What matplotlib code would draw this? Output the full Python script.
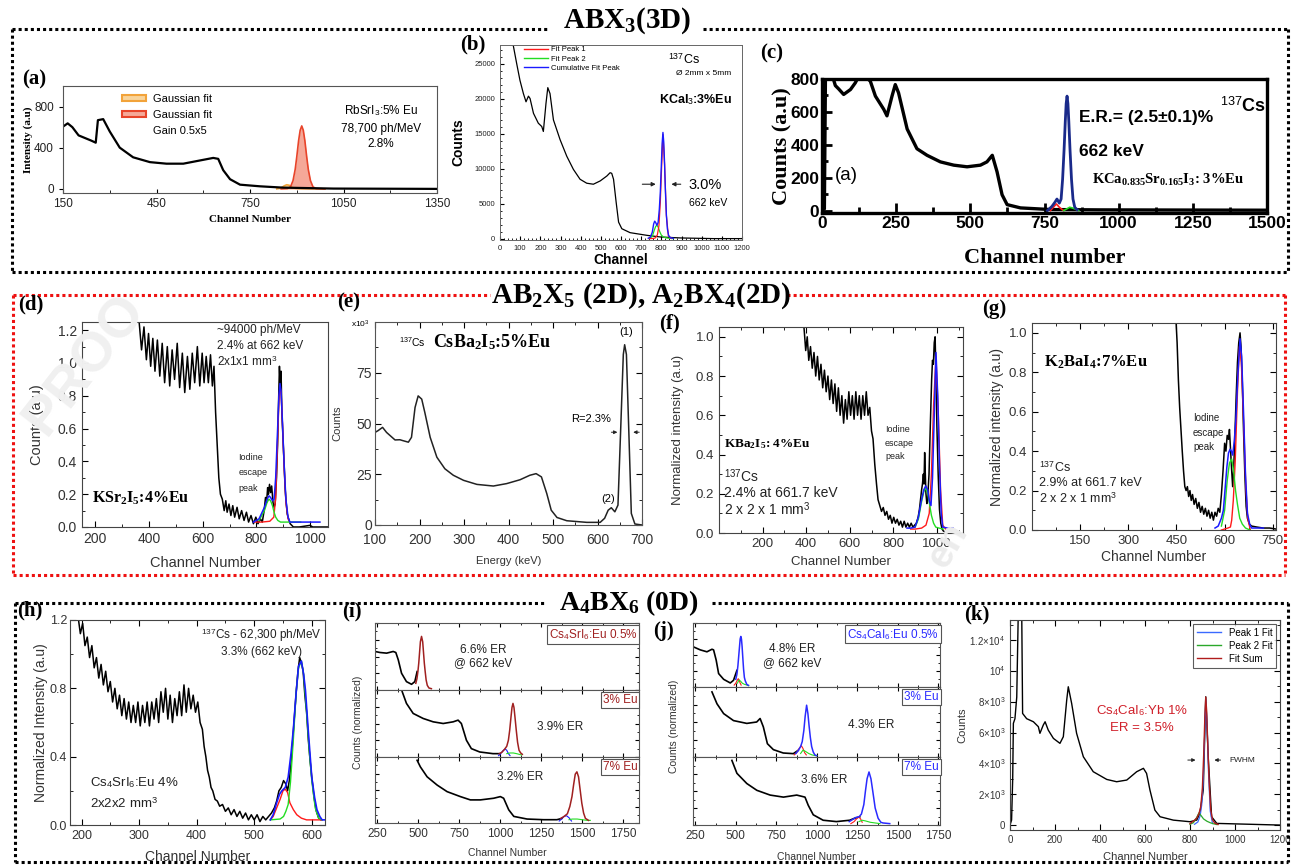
import numpy as np
import matplotlib.pyplot as plt
from matplotlib.lines import Line2D
from matplotlib.patches import Patch
from matplotlib.ticker import MultipleLocator, FormatStrFormatter, FixedLocator

W, H = 1291, 866
plt.rcParams['font.family'] = ['Liberation Sans', 'DejaVu Sans']
plt.rcParams['mathtext.fontset'] = 'custom'
plt.rcParams['mathtext.rm'] = 'Liberation Serif'
plt.rcParams['mathtext.bf'] = 'Liberation Serif:bold'
plt.rcParams['mathtext.sf'] = 'Liberation Sans'
plt.rcParams['mathtext.it'] = 'Liberation Serif:italic'
SERIF = 'Liberation Serif'
NARROW = 'Liberation Sans'

# ---------------- data ----------------
# (a) RbSrI3:5% Eu
a_ch = [150, 165, 180, 200, 240, 255, 262, 279, 300, 332, 375, 429, 482, 536, 589, 632, 648, 664, 686, 718, 782, 857, 1018, 1350]
a_y = [605, 637, 600, 520, 470, 449, 668, 678, 558, 401, 307, 260, 245, 245, 276, 301, 292, 182, 94, 41, 25, 12, 3, 0]
a_red_ch = [850, 870, 880, 888, 895, 900, 906, 911, 916, 921, 926, 932, 937, 944, 952, 962, 990]
a_red_y = [0, 3, 20, 80, 190, 310, 470, 570, 612, 570, 470, 310, 190, 80, 20, 3, 0]
a_org_ch = [836, 850, 860, 868, 876, 885, 895, 920, 991]
a_org_y = [0, 10, 30, 40, 35, 15, 5, 2, 0]

# (b) KCaI3:3%Eu
b_ch = [60, 66, 83, 99, 116, 129, 141, 149, 166, 190, 207, 215, 228, 237, 248, 265, 298, 331, 364, 397, 430, 463, 497, 530,
        546, 554, 563, 576, 588, 604, 645, 728, 794, 894, 1059, 1200]
b_y = [29000, 27600, 25000, 22640, 20750, 19575, 20380, 20050, 17925, 16510, 16040, 15330, 19340, 21600, 20750, 16980,
       14150, 11790, 9900, 8490, 7925, 7780, 8255, 8960, 9430, 9340, 8490, 5190, 2360, 1415, 850, 470, 236, 94, 0, 0]
b_blue_ch = [735, 745, 755, 762, 767, 772, 778, 784, 790, 795, 800, 804, 808, 812, 816, 820, 825, 830, 836, 845, 860]
b_blue_y = [50, 200, 900, 2100, 2500, 2300, 1900, 2300, 4200, 6700, 10500, 13600, 15190, 13800, 10800, 7000, 3400, 1400, 450, 120, 40]
b_red_ch = [740, 760, 770, 780, 788, 795, 800, 808, 816, 825, 835, 850]
b_red_y = [0, 20, 100, 500, 1800, 5200, 9200, 14900, 10600, 3300, 400, 20]
b_grn_ch = [740, 755, 765, 772, 778, 785, 792, 800, 810, 825, 845, 860]
b_grn_y = [0, 300, 1200, 1750, 1900, 1600, 1000, 500, 250, 100, 30, 0]

# (c) KCa0.835Sr0.165I3:3%Eu
c_ch = [0, 4, 8, 12, 30, 45, 56, 73, 96, 112, 125, 140, 163, 180, 208, 219, 236, 247, 258, 287, 320, 354, 399, 444, 489,
        534, 556, 574, 590, 607, 624, 669, 770, 938, 1500]
c_y = [0, 80, 10, 900, 850, 760, 740, 706, 736, 776, 820, 830, 786, 696, 616, 576, 696, 766, 716, 496, 376, 336, 296, 276,
       266, 276, 296, 336, 236, 96, 36, 16, 6, 4, 2]
c_blue_ch = [760, 775, 785, 792, 800, 806, 811, 816, 820, 823, 826, 829, 832, 836, 841, 846, 852, 860]
c_blue_y = [0, 25, 50, 70, 45, 70, 190, 370, 540, 650, 696, 650, 540, 370, 190, 70, 20, 5]
c_red_ch = [770, 780, 790, 800, 810, 815]
c_red_y = [0, 20, 40, 20, 5, 0]
c_grn_ch = [815, 825, 835, 845, 855, 865]
c_grn_y = [0, 10, 20, 15, 8, 0]

# (d) KSr2I5:4%Eu
d_ch = [363, 372, 381, 390, 398, 406, 414, 422, 431, 440, 449, 458, 468, 477, 486, 495, 505, 514, 524, 533, 543, 552, 561,
        570, 580, 589, 598, 605, 613, 621, 629, 636, 642, 648, 654, 660, 666, 673, 680, 686, 691, 698, 705, 712, 719, 728,
        736, 745, 754, 763, 771, 780, 789, 798, 806, 815, 822, 829, 834, 838, 842, 845, 849, 853, 857, 862, 866, 870, 875,
        879, 883, 886, 889, 892, 895, 899, 903, 907, 911, 915, 920, 926, 932, 938, 960, 1000, 1010, 1067]
d_y = [1.25, 1.08, 1.22, 1.02, 1.18, 0.98, 1.15, 0.95, 1.14, 0.92, 1.12, 0.88, 1.10, 0.86, 1.08, 0.90, 1.12, 0.85, 1.06,
       0.82, 1.04, 0.84, 1.06, 0.88, 1.10, 0.86, 1.06, 0.88, 1.04, 0.88, 1.05, 0.86, 0.98, 0.70, 0.50, 0.30, 0.20, 0.17,
       0.10, 0.16, 0.09, 0.14, 0.07, 0.13, 0.06, 0.12, 0.05, 0.10, 0.04, 0.09, 0.03, 0.07, 0.02, 0.06, 0.02, 0.05, 0.03,
       0.10, 0.18, 0.15, 0.24, 0.20, 0.26, 0.21, 0.25, 0.15, 0.12, 0.14, 0.30, 0.50, 0.78, 0.98, 0.85, 0.95, 0.70, 0.55,
       0.40, 0.24, 0.15, 0.08, 0.05, 0.02, 0.01, 0.0, 0.0, 0.01, 0.0, 0.0]
d_blue_ch = [789, 810, 830, 840, 847, 853, 860, 866, 872, 878, 884, 888, 892, 897, 903, 910, 918, 925, 940, 1037]
d_blue_y = [0.03, 0.05, 0.12, 0.17, 0.19, 0.18, 0.16, 0.17, 0.30, 0.55, 0.80, 0.875, 0.83, 0.65, 0.40, 0.17, 0.06, 0.03, 0.03, 0.03]
d_red_ch = [795, 820, 850, 865, 872, 878, 884, 888, 892, 897, 903, 910, 918, 925]
d_red_y = [0.03, 0.03, 0.035, 0.06, 0.18, 0.47, 0.77, 0.86, 0.82, 0.64, 0.38, 0.15, 0.05, 0.03]
d_grn_ch = [810, 830, 840, 847, 853, 860, 866, 872, 880, 890, 910, 940, 965]
d_grn_y = [0.04, 0.10, 0.15, 0.17, 0.16, 0.13, 0.09, 0.06, 0.04, 0.03, 0.03, 0.03, 0.03]

# (e) CsBa2I5:5%Eu
e_en = [100, 107, 117, 126, 145, 156, 162, 175, 182, 190, 197, 205, 212, 224, 239, 257, 276, 299, 329, 366, 396, 426, 448,
        462, 474, 486, 496, 509, 531, 576, 606, 616, 624, 631, 639, 646, 652, 658, 661, 665, 671, 676, 684, 700]
e_y = [45.6, 46.5, 48.1, 45.6, 41.9, 42.0, 41.6, 40.8, 43.2, 57.9, 63.6, 62.0, 55.4, 43.2, 33.4, 27.7, 24.5, 22.0, 20.0,
       19.2, 20.4, 22.3, 24.5, 25.3, 23.7, 15.5, 7.3, 3.7, 2.1, 1.3, 1.3, 3.3, 7.3, 8.5, 6.5, 9.8, 46.5, 84, 88.8, 84,
       41.6, 5.7, 0.5, 0]

# (f) KBa2I5:4%Eu
f_ch = [390, 398, 405, 412, 420, 428, 436, 444, 452, 460, 468, 476, 484, 492, 500, 508, 516, 524, 532, 540, 548, 556, 564,
        572, 580, 588, 596, 604, 612, 620, 628, 636, 644, 652, 660, 668, 676, 684, 692, 700, 707, 715, 723, 730, 738, 746,
        754, 762, 770, 778, 786, 794, 802, 810, 818, 826, 834, 842, 850, 858, 866, 874, 882, 890, 898, 906, 914, 920, 926,
        930, 934, 938, 941, 944, 947, 950, 954, 958, 964, 970, 976, 980, 984, 988, 992, 996, 1000, 1006, 1012, 1018, 1024,
        1030, 1045]
f_y = [1.05, 0.93, 1.00, 0.88, 0.95, 0.84, 0.92, 0.80, 0.90, 0.78, 0.86, 0.74, 0.83, 0.72, 0.80, 0.68, 0.78, 0.66, 0.76,
       0.62, 0.74, 0.60, 0.70, 0.56, 0.68, 0.58, 0.72, 0.60, 0.70, 0.58, 0.72, 0.60, 0.70, 0.58, 0.70, 0.60, 0.72, 0.60,
       0.64, 0.52, 0.48, 0.35, 0.25, 0.17, 0.14, 0.11, 0.13, 0.09, 0.11, 0.07, 0.09, 0.05, 0.08, 0.05, 0.07, 0.04, 0.06,
       0.03, 0.06, 0.03, 0.05, 0.03, 0.05, 0.03, 0.04, 0.05, 0.08, 0.12, 0.18, 0.22, 0.25, 0.30, 0.25, 0.41, 0.30, 0.20,
       0.15, 0.18, 0.30, 0.55, 0.78, 0.88, 0.86, 0.97, 1.00, 0.80, 0.55, 0.30, 0.12, 0.05, 0.02, 0.01, 0.0]
f_blue_ch = [863, 880, 900, 915, 928, 940, 949, 958, 966, 973, 980, 988, 996, 1004, 1012, 1020, 1027, 1050, 1074]
f_blue_y = [0.025, 0.025, 0.03, 0.08, 0.16, 0.22, 0.24, 0.22, 0.16, 0.14, 0.28, 0.60, 0.92, 0.70, 0.35, 0.10, 0.03, 0.025, 0.025]
f_red_ch = [880, 900, 930, 950, 965, 975, 985, 996, 1007, 1017, 1027, 1040]
f_red_y = [0.02, 0.02, 0.025, 0.04, 0.10, 0.30, 0.65, 0.90, 0.60, 0.22, 0.04, 0.02]
f_grn_ch = [900, 915, 930, 940, 949, 958, 966, 975, 985, 995, 1010, 1030]
f_grn_y = [0.03, 0.07, 0.16, 0.21, 0.23, 0.20, 0.15, 0.09, 0.05, 0.03, 0.025, 0.02]

# (g) K2BaI4:7%Eu
g_ch = [448, 452, 456, 460, 464, 468, 472, 476, 480, 484, 488, 492, 496, 500, 505, 510, 515, 520, 525, 530, 535, 540, 545,
        550, 555, 560, 565, 570, 575, 580, 585, 590, 595, 600, 604, 608, 612, 615, 618, 622, 625, 628, 632, 636, 640, 644,
        648, 651, 655, 659, 663, 667, 671, 677, 684, 700, 720, 740, 760]
g_y = [1.08, 0.95, 0.76, 0.62, 0.51, 0.40, 0.30, 0.22, 0.20, 0.22, 0.17, 0.20, 0.15, 0.18, 0.13, 0.16, 0.11, 0.14, 0.09,
       0.12, 0.08, 0.11, 0.07, 0.10, 0.06, 0.09, 0.05, 0.09, 0.07, 0.11, 0.09, 0.18, 0.30, 0.44, 0.40, 0.48, 0.46, 0.51,
       0.42, 0.30, 0.22, 0.30, 0.48, 0.68, 0.85, 0.95, 1.0, 0.93, 0.75, 0.50, 0.28, 0.12, 0.06, 0.03, 0.02, 0.015, 0.01,
       0.01, 0.005]
g_blue_ch = [570, 580, 590, 596, 601, 607, 612, 617, 621, 625, 630, 635, 641, 648, 653, 659, 665, 671, 678, 684, 700, 721]
g_blue_y = [0.01, 0.02, 0.06, 0.10, 0.20, 0.32, 0.39, 0.41, 0.40, 0.38, 0.45, 0.56, 0.78, 0.97, 0.88, 0.59, 0.28, 0.085, 0.03, 0.01, 0.01, 0.01]
g_red_ch = [590, 600, 610, 618, 622, 627, 633, 640, 646, 652, 659, 666, 672, 680]
g_red_y = [0.0, 0.005, 0.01, 0.015, 0.05, 0.15, 0.35, 0.70, 0.93, 0.85, 0.55, 0.22, 0.06, 0.0]
g_grn_ch = [590, 600, 608, 615, 622, 628, 634, 640, 647, 655, 665, 679]
g_grn_y = [0.02, 0.10, 0.25, 0.34, 0.36, 0.30, 0.20, 0.13, 0.06, 0.03, 0.01, 0.0]

# (h) Cs4SrI6:Eu 4%
h_ch = [194, 198, 202, 206, 210, 214, 218, 222, 226, 230, 234, 238, 242, 246, 250, 254, 258, 262, 266, 270, 274, 278, 282,
        286, 290, 294, 298, 302, 306, 310, 314, 318, 322, 326, 330, 334, 338, 342, 346, 350, 354, 358, 362, 366, 370, 374,
        378, 382, 386, 390, 394, 398, 402, 406, 410, 413, 416, 419, 422, 425, 428, 432, 436, 440, 445, 450, 455, 460, 465,
        470, 475, 480, 485, 490, 495, 500, 505, 510, 515, 520, 525, 530, 535, 539, 543, 547, 551, 555, 558, 561, 564, 567,
        570, 573, 576, 579, 582, 585, 588, 591, 594, 597, 600, 604, 608, 612, 616]
h_y = [1.22, 1.12, 1.18, 1.05, 1.10, 0.98, 1.05, 0.92, 0.98, 0.86, 0.94, 0.82, 0.90, 0.78, 0.84, 0.72, 0.80, 0.68, 0.76,
       0.64, 0.74, 0.62, 0.72, 0.60, 0.70, 0.60, 0.72, 0.58, 0.70, 0.60, 0.72, 0.58, 0.72, 0.62, 0.74, 0.60, 0.78, 0.66,
       0.80, 0.62, 0.76, 0.60, 0.74, 0.64, 0.78, 0.64, 0.82, 0.66, 0.80, 0.68, 0.76, 0.66, 0.72, 0.60, 0.56, 0.46, 0.40,
       0.32, 0.28, 0.22, 0.20, 0.15, 0.14, 0.11, 0.12, 0.08, 0.10, 0.06, 0.09, 0.05, 0.08, 0.04, 0.07, 0.03, 0.06, 0.03,
       0.06, 0.02, 0.05, 0.03, 0.05, 0.07, 0.10, 0.14, 0.20, 0.22, 0.26, 0.24, 0.20, 0.26, 0.36, 0.50, 0.64, 0.78, 0.90,
       0.98, 0.95, 0.90, 0.76, 0.66, 0.50, 0.38, 0.28, 0.16, 0.08, 0.04, 0.03]
h_blue_ch = [528, 533, 539, 544, 548, 554, 559, 564, 568, 573, 577, 582, 586, 589, 594, 600, 605, 609, 614, 618, 623]
h_blue_y = [0.03, 0.06, 0.13, 0.18, 0.20, 0.22, 0.28, 0.42, 0.56, 0.78, 0.93, 0.96, 0.88, 0.79, 0.55, 0.28, 0.16, 0.09, 0.05, 0.03, 0.03]
h_red_ch = [528, 533, 539, 545, 550, 554, 558, 562, 568, 574, 582, 591, 600, 609, 618]
h_red_y = [0.03, 0.05, 0.10, 0.15, 0.20, 0.21, 0.19, 0.13, 0.09, 0.06, 0.04, 0.03, 0.03, 0.03, 0.03]
h_grn_ch = [528, 545, 551, 555, 559, 563, 568, 573, 577, 582, 586, 591, 596, 600, 606, 612, 618]
h_grn_y = [0.03, 0.035, 0.05, 0.08, 0.12, 0.25, 0.50, 0.78, 0.92, 0.96, 0.88, 0.66, 0.42, 0.26, 0.10, 0.04, 0.03]

# (i) Cs4SrI6:Eu, 0.5 / 3 / 7 % Eu
i1_ch = [236, 266, 307, 347, 363, 378, 398, 428, 459, 479, 493]
i1_y = [0.575, 0.56, 0.55, 0.575, 0.56, 0.45, 0.25, 0.125, 0.085, 0.125, 0.275]
i1_fit_ch = [485, 492, 498, 503, 508, 513, 520, 527, 532, 537, 542, 548, 555, 565, 580]
i1_fit_y = [0.10, 0.17, 0.28, 0.40, 0.56, 0.72, 0.80, 0.72, 0.56, 0.40, 0.28, 0.15, 0.07, 0.03, 0.02]
i2_ch = [402, 428, 469, 530, 591, 652, 713, 743, 763, 794, 824, 875, 956, 997]
i2_y = [0.975, 0.80, 0.65, 0.575, 0.525, 0.50, 0.525, 0.55, 0.50, 0.25, 0.125, 0.075, 0.05, 0.05]
i2_fit_ch = [995, 1010, 1025, 1040, 1050, 1058, 1066, 1072, 1078, 1084, 1090, 1098, 1106, 1115, 1125, 1135]
i2_fit_y = [0.05, 0.07, 0.11, 0.16, 0.25, 0.40, 0.60, 0.74, 0.80, 0.74, 0.60, 0.40, 0.22, 0.10, 0.06, 0.04]
i2_p1_ch = [990, 1000, 1015, 1030, 1040, 1050, 1060]
i2_p1_y = [0.02, 0.04, 0.09, 0.12, 0.10, 0.05, 0.02]
i2_p2_ch = [1040, 1060, 1080, 1100, 1115, 1130]
i2_p2_y = [0.05, 0.06, 0.06, 0.05, 0.04, 0.03]
i3_ch = [493, 513, 554, 615, 676, 757, 818, 879, 960, 1001, 1021, 1052, 1083, 1164, 1265, 1346, 1377]
i3_y = [0.95, 0.85, 0.70, 0.575, 0.475, 0.40, 0.35, 0.35, 0.375, 0.40, 0.375, 0.20, 0.10, 0.06, 0.05, 0.05, 0.07]
i3_fit_ch = [1370, 1390, 1410, 1425, 1438, 1448, 1458, 1468, 1478, 1488, 1498, 1509, 1520, 1539]
i3_fit_y = [0.07, 0.10, 0.14, 0.25, 0.40, 0.58, 0.74, 0.775, 0.70, 0.50, 0.30, 0.15, 0.07, 0.04]
i3_p1_ch = [1360, 1375, 1390, 1405, 1420, 1435]
i3_p1_y = [0.03, 0.06, 0.10, 0.11, 0.08, 0.03]
i3_p2_ch = [1420, 1440, 1470, 1500, 1530, 1550]
i3_p2_y = [0.05, 0.06, 0.06, 0.05, 0.04, 0.04]

# (j) Cs4CaI6:Eu, 0.5 / 3 / 7 % Eu
j1_ch = [236, 281, 322, 353, 363, 379, 394, 425, 466, 486, 507]
j1_y = [0.63, 0.58, 0.55, 0.59, 0.58, 0.42, 0.21, 0.12, 0.063, 0.105, 0.26]
j1_fit_ch = [500, 507, 513, 518, 523, 527, 531, 535, 539, 543, 548, 553, 558, 568, 578]
j1_fit_y = [0.12, 0.20, 0.33, 0.48, 0.63, 0.75, 0.79, 0.75, 0.63, 0.47, 0.28, 0.15, 0.10, 0.04, 0.026]
j1_p1_ch = [490, 500, 508, 515, 520, 527, 533]
j1_p1_y = [0.03, 0.06, 0.10, 0.13, 0.11, 0.06, 0.03]
j1_p2_ch = [510, 520, 530, 540, 555, 570, 580]
j1_p2_y = [0.06, 0.11, 0.09, 0.06, 0.04, 0.03, 0.02]
j2_ch = [353, 384, 425, 486, 568, 629, 650, 670, 695, 732, 793, 855, 885]
j2_y = [0.93, 0.76, 0.62, 0.52, 0.48, 0.50, 0.55, 0.43, 0.19, 0.105, 0.057, 0.048, 0.095]
j2_fit_ch = [870, 885, 900, 910, 920, 928, 937, 945, 952, 960, 968, 978, 988, 998]
j2_fit_y = [0.05, 0.09, 0.15, 0.22, 0.38, 0.58, 0.74, 0.62, 0.45, 0.28, 0.15, 0.07, 0.03, 0.02]
j2_p1_ch = [860, 875, 890, 905, 915, 925, 935]
j2_p1_y = [0.03, 0.06, 0.12, 0.16, 0.12, 0.06, 0.03]
j2_p2_ch = [900, 915, 930, 950, 970, 990, 1000]
j2_p2_y = [0.05, 0.10, 0.08, 0.05, 0.03, 0.02, 0.02]
j3_ch = [476, 507, 568, 630, 712, 794, 876, 927, 947, 978, 1039, 1121, 1203, 1234, 1265]
j3_y = [0.95, 0.76, 0.61, 0.51, 0.44, 0.41, 0.44, 0.41, 0.29, 0.15, 0.07, 0.05, 0.07, 0.10, 0.12]
j3_fit_ch = [1200, 1220, 1240, 1260, 1275, 1290, 1300, 1310, 1322, 1334, 1345, 1360, 1378, 1395, 1408, 1450]
j3_fit_y = [0.05, 0.08, 0.11, 0.12, 0.16, 0.30, 0.50, 0.68, 0.78, 0.68, 0.50, 0.25, 0.10, 0.04, 0.03, 0.02]
j3_p1_ch = [1210, 1230, 1245, 1258, 1270, 1280]
j3_p1_y = [0.02, 0.05, 0.09, 0.12, 0.09, 0.04]
j3_p2_ch = [1260, 1280, 1300, 1330, 1360, 1390]
j3_p2_y = [0.05, 0.07, 0.06, 0.04, 0.03, 0.02]

# (k) Cs4CaI6:Yb 1%
k_ch = [0, 7, 12, 15, 22, 30, 37, 45, 52, 56, 74, 104, 126, 133, 148, 156, 170, 193, 222, 237, 252, 259, 274, 296, 326,
        370, 430, 474, 519, 563, 593, 607, 622, 644, 667, 726, 800, 830, 844, 859, 870, 881, 896, 919, 1200]
k_y = [0, 324, 3000, 6600, 6900, 8300, 14000, 14000, 14000, 7240, 6900, 6700, 6380, 5950, 6490, 6700, 6160, 5620, 5300,
       5730, 8100, 8970, 7890, 5950, 4430, 3460, 2960, 2810, 2920, 3460, 3680, 3350, 2270, 970, 540, 320, 216, 324, 760,
       2270, 8320, 4430, 540, 108, 0]
k_sum_ch = [800, 815, 830, 840, 848, 855, 861, 866, 870, 874, 879, 885, 892, 900, 910, 925]
k_sum_y = [100, 250, 450, 750, 1200, 2400, 4600, 7000, 8300, 7400, 5200, 2800, 1000, 350, 120, 40]
k_p1_ch = [820, 835, 845, 852, 858, 864, 870, 876, 882, 890, 900]
k_p1_y = [50, 200, 600, 1300, 2600, 5300, 8100, 6500, 3500, 900, 100]
k_p2_ch = [800, 815, 830, 840, 850, 860, 875, 890, 905, 920]
k_p2_y = [50, 150, 500, 800, 600, 400, 250, 150, 80, 30]
k_yticks = [0, 2000, 4000, 6000, 8000, 10000, 12000]
k_ylabels = ['0', '2×10$^{\\mathsf{3}}$', '4×10$^{\\mathsf{3}}$', '6×10$^{\\mathsf{3}}$', '8×10$^{\\mathsf{3}}$',
             '10$^{\\mathsf{4}}$', '1.2×10$^{\\mathsf{4}}$']

RED, GRN, BLU = '#ff1a1a', '#22dd22', '#1a1aff'

fig = plt.figure(figsize=(W / 100, H / 100), dpi=100)


def px_axes(l, t, r, b):
    return fig.add_axes([l / W, 1 - b / H, (r - l) / W, (b - t) / H])


def fig_line(xs, ys, color, lw=2.2):
    fig.add_artist(Line2D([x / W for x in xs], [1 - y / H for y in ys], transform=fig.transFigure,
                          color=color, lw=lw, linestyle=(0, (1, 1)), dash_capstyle='butt'))


def frame(l, t, r, b, g0, g1, color):
    fig_line([l, g0], [t, t], color)
    fig_line([g1, r], [t, t], color)
    fig_line([l, l], [t, b], color)
    fig_line([r, r], [t, b], color)
    fig_line([l, r], [b, b], color)


def ftext(x, y, s, **kw):
    fig.text(x / W, 1 - y / H, s, **kw)


def labels(ax, box, xlab, ylab, xl_y, yl_x, fs, **kw):
    l, t, r, b = box
    if xlab:
        ax.set_xlabel(xlab, fontsize=fs, va='center', **kw)
        ax.xaxis.set_label_coords(0.5, -(xl_y - b) / (b - t))
    if ylab:
        ax.set_ylabel(ylab, fontsize=fs, va='center', **kw)
        ax.yaxis.set_label_coords(-(l - yl_x) / (r - l), 0.5)


def ticks(ax, size, direction='in', both=True, major=4, minor=2, color='#222'):
    ax.tick_params(which='both', direction=direction, top=both, right=both, labelsize=size, labelcolor=color)
    ax.tick_params(which='major', length=major)
    ax.tick_params(which='minor', length=minor)


# ---------------- frames and headers ----------------
frame(12, 29, 1288, 272, 547, 703, 'black')
frame(13, 295, 1285, 575, 490, 787, '#ee1111')
frame(15, 603, 1288, 862, 545, 712, 'black')
ftext(627, 21, 'ABX$_{\\mathbf{3}}$(3D)', family=SERIF, weight='bold', size=21, ha='center', va='center')
ftext(641, 296, 'AB$_{\\mathbf{2}}$X$_{\\mathbf{5}}$ (2D), A$_{\\mathbf{2}}$BX$_{\\mathbf{4}}$(2D)', family=SERIF,
      weight='bold', size=21, ha='center', va='center')
ftext(629, 603, 'A$_{\\mathbf{4}}$BX$_{\\mathbf{6}}$ (0D)', family=SERIF, weight='bold', size=20, ha='center', va='center')

for lab, x, y in [('(a)', 34, 79), ('(b)', 473, 44), ('(c)', 772, 53), ('(d)', 31, 304), ('(e)', 349, 302),
                  ('(f)', 669, 323), ('(g)', 994, 309), ('(h)', 30, 610), ('(i)', 352, 611), ('(j)', 664, 631),
                  ('(k)', 977, 614)]:
    ftext(x, y, lab, family=SERIF, weight='bold', size=15, ha='center', va='center')

# watermarks
ftext(85, 365, 'PROO', size=40, weight='bold', color='#f0f0f0', rotation=52, ha='center', va='center', zorder=0)
ftext(948, 545, 'en', size=28, weight='bold', color='#ececec', rotation=60, ha='center', va='center', zorder=0)

# ---------------- (a) ----------------
box = (63, 86, 437, 193)
ax = px_axes(*box)
ax.fill_between(a_org_ch, a_org_y, color='#f9d49a', lw=0)
ax.plot(a_org_ch, a_org_y, color='#f2a33a', lw=1.2)
ax.fill_between(a_red_ch, a_red_y, color='#f5a898', lw=0)
ax.plot(a_red_ch, a_red_y, color='#e8442a', lw=1.2)
ax.plot(a_ch, a_y, color='black', lw=1.6)
ax.set_xlim(150, 1350)
ax.set_ylim(-40, 1000)
ax.xaxis.set_major_locator(FixedLocator([150, 450, 750, 1050, 1350]))
ax.xaxis.set_minor_locator(MultipleLocator(150))
ax.yaxis.set_major_locator(FixedLocator([0, 400, 800]))
ticks(ax, 8.5, direction='in', both=False, major=3, minor=2)
ax.tick_params(axis='y', direction='out')
for s in ax.spines.values():
    s.set_color('#555')
    s.set_linewidth(0.8)
labels(ax, box, 'Channel Number', 'Intensity (a.u)', 220, 28, 8, family=SERIF, weight='bold')
h1 = Patch(fc='#f9d49a', ec='#f2a33a', lw=1.5)
h2 = Patch(fc='#f5a898', ec='#e8442a', lw=1.5)
h3 = Patch(fc='none', ec='none')
ax.legend([h1, h2, h3], ['Gaussian fit', 'Gaussian fit', 'Gain 0.5x5'], loc='upper left', bbox_to_anchor=(0.13, 1.02),
          frameon=False, fontsize=8, handlelength=2.2, handleheight=0.45, labelspacing=0.55, handletextpad=0.6)
ax.text(0.85, 0.77, 'RbSrI$_{\\mathsf{3}}$:5% Eu', transform=ax.transAxes, ha='center', va='center', fontsize=8.5)
ax.text(0.85, 0.6, '78,700 ph/MeV', transform=ax.transAxes, ha='center', va='center', fontsize=8.5)
ax.text(0.85, 0.46, '2.8%', transform=ax.transAxes, ha='center', va='center', fontsize=8.5)

# ---------------- (b) ----------------
box = (500, 45, 742, 240)
ax = px_axes(*box)
ax.plot(b_ch, b_y, color='black', lw=0.9)
ax.plot(b_grn_ch, b_grn_y, color=GRN, lw=0.9)
ax.plot(b_red_ch, b_red_y, color=RED, lw=0.9)
ax.plot(b_blue_ch, b_blue_y, color=BLU, lw=1.0)
ax.set_xlim(0, 1200)
ax.set_ylim(-200, 27700)
ax.xaxis.set_major_locator(MultipleLocator(100))
ax.xaxis.set_minor_locator(MultipleLocator(20))
ax.yaxis.set_major_locator(MultipleLocator(5000))
ax.yaxis.set_minor_locator(MultipleLocator(1000))
ticks(ax, 5.5, direction='in', both=False, major=3, minor=1.5)
for s in ax.spines.values():
    s.set_color('#666')
    s.set_linewidth(0.7)
labels(ax, box, 'Channel', 'Counts', 260, 458, 10, weight='bold')
lh = [Line2D([], [], color=RED, lw=1), Line2D([], [], color=GRN, lw=1), Line2D([], [], color=BLU, lw=1)]
ax.legend(lh, ['Fit Peak 1', 'Fit Peak 2', 'Cumulative Fit Peak'], loc='upper left', bbox_to_anchor=(0.07, 1.03),
          frameon=False, fontsize=5.5, handlelength=3.2, labelspacing=0.25, handletextpad=0.3)
ax.text(0.76, 0.925, '$^{\\mathsf{137}}$Cs', transform=ax.transAxes, ha='center', va='center', fontsize=9)
ax.text(0.84, 0.855, 'Ø 2mm x 5mm', transform=ax.transAxes, ha='center', va='center', fontsize=6)
ax.text(0.81, 0.72, 'KCaI$_{\\mathsf{3}}$:3%Eu', transform=ax.transAxes, ha='center', va='center', fontsize=9,
        weight='bold')
ax.text(0.78, 0.28, '3.0%', transform=ax.transAxes, ha='left', va='center', fontsize=10.5)
ax.text(0.78, 0.19, '662 keV', transform=ax.transAxes, ha='left', va='center', fontsize=7.5)
ax.annotate('', xy=(786, 7780), xytext=(692, 7780), arrowprops=dict(arrowstyle='-|>', color='#222', lw=0.8,
                                                                     mutation_scale=6))
ax.annotate('', xy=(836, 7780), xytext=(910, 7780), arrowprops=dict(arrowstyle='-|>', color='#222', lw=0.8,
                                                                     mutation_scale=6))

# ---------------- (c) ----------------
box = (822, 79, 1267, 213)
ax = px_axes(*box)
ax.plot(c_ch, c_y, color='black', lw=2.4)
ax.plot(c_red_ch, c_red_y, color=RED, lw=1.2)
ax.plot(c_grn_ch, c_grn_y, color=GRN, lw=1.2)
ax.plot(c_blue_ch, c_blue_y, color='#1a2a8a', lw=2.0)
ax.set_xlim(0, 1500)
ax.set_ylim(-15, 800)
ax.xaxis.set_major_locator(MultipleLocator(250))
ax.xaxis.set_minor_locator(MultipleLocator(125))
ax.yaxis.set_major_locator(MultipleLocator(200))
ax.yaxis.set_minor_locator(MultipleLocator(100))
ax.tick_params(which='both', direction='in', width=2, pad=2)
ax.tick_params(which='major', length=7)
ax.tick_params(which='minor', length=4)
for s in ax.spines.values():
    s.set_linewidth(2.4)
for tl in ax.get_xticklabels() + ax.get_yticklabels():
    tl.set_family(NARROW)
    tl.set_weight('bold')
    tl.set_fontsize(12.5)
labels(ax, box, 'Channel number', 'Counts (a.u)', 258, 782, 16, family=SERIF, weight='bold')
ax.text(0.577, 0.71, 'E.R.= (2.5±0.1)%', transform=ax.transAxes, ha='left', va='center', fontsize=12.5,
        family=NARROW, weight='bold')
ax.text(0.577, 0.46, '662 keV', transform=ax.transAxes, ha='left', va='center', fontsize=12.5, family=NARROW,
        weight='bold')
ax.text(0.895, 0.8, '$^{\\mathsf{137}}$Cs', transform=ax.transAxes, ha='left', va='center', fontsize=13,
        family=NARROW, weight='bold')
ax.text(0.03, 0.28, '(a)', transform=ax.transAxes, ha='left', va='center', fontsize=13.5, family=NARROW)
ax.text(0.607, 0.245, 'KCa$_{\\mathbf{0.835}}$Sr$_{\\mathbf{0.165}}$I$_{\\mathbf{3}}$: 3%Eu', transform=ax.transAxes,
        ha='left', va='center', fontsize=10.5, family=SERIF, weight='bold')

# ---------------- (d) ----------------
box = (82, 322, 328, 527)
ax = px_axes(*box)
ax.patch.set_alpha(0)
ax.plot(d_ch, d_y, color='black', lw=1.1)
ax.plot(d_red_ch, d_red_y, color=RED, lw=1.0)
ax.plot(d_grn_ch, d_grn_y, color=GRN, lw=1.0)
ax.plot(d_blue_ch, d_blue_y, color=BLU, lw=1.1)
ax.set_xlim(150, 1067)
ax.set_ylim(0, 1.25)
ax.xaxis.set_major_locator(MultipleLocator(200))
ax.xaxis.set_minor_locator(MultipleLocator(100))
ax.yaxis.set_major_locator(MultipleLocator(0.2))
ax.yaxis.set_minor_locator(MultipleLocator(0.1))
ax.yaxis.set_major_formatter(FormatStrFormatter('%.1f'))
ticks(ax, 10, both=False, color='#333')
for s in ax.spines.values():
    s.set_color('#444')
labels(ax, box, 'Channel Number', 'Counts (a.u)', 563, 37, 10.5, color='#333')
for i, s in enumerate(['~94000 ph/MeV', '2.4% at 662 keV', '2x1x1 mm$^{\\mathsf{3}}$']):
    ax.text(0.548, 0.96 - i * 0.078, s, transform=ax.transAxes, ha='left', va='center', fontsize=8.5, color='#222')
for i, s in enumerate(['Iodine', 'escape', 'peak']):
    ax.text(0.635, 0.34 - i * 0.075, s, transform=ax.transAxes, ha='left', va='center', fontsize=6.5, color='#222')
ax.text(0.04, 0.14, 'KSr$_{\\mathbf{2}}$I$_{\\mathbf{5}}$:4%Eu', transform=ax.transAxes, ha='left', va='center',
        fontsize=11.5, family=SERIF, weight='bold')

# ---------------- (e) ----------------
box = (375, 322, 642, 525)
ax = px_axes(*box)
ax.plot(e_en, e_y, color='#222', lw=1.1)
ax.set_xlim(100, 700)
ax.set_ylim(0, 100)
ax.xaxis.set_major_locator(MultipleLocator(100))
ax.xaxis.set_minor_locator(MultipleLocator(50))
ax.yaxis.set_major_locator(FixedLocator([0, 25, 50, 75]))
ax.yaxis.set_minor_locator(MultipleLocator(12.5))
ticks(ax, 10, color='#333')
ax.tick_params(axis='y', pad=2)
ax.tick_params(axis='x', pad=5.5)
for s in ax.spines.values():
    s.set_color('#555')
labels(ax, box, 'Energy (keV)', 'Counts', 561, 337, 8, color='#333')
ax.text(-0.09, 0.99, 'x10$^{\\mathsf{3}}$', transform=ax.transAxes, ha='left', va='center', fontsize=6)
ax.text(0.09, 0.9, '$^{\\mathsf{137}}$Cs', transform=ax.transAxes, ha='left', va='center', fontsize=7.5)
ax.text(0.44, 0.9, 'CsBa$_{\\mathbf{2}}$I$_{\\mathbf{5}}$:5%Eu', transform=ax.transAxes, ha='center', va='center',
        fontsize=13, family=SERIF, weight='bold')
ax.text(0.94, 0.95, '(1)', transform=ax.transAxes, ha='center', va='center', fontsize=8)
ax.text(0.875, 0.13, '(2)', transform=ax.transAxes, ha='center', va='center', fontsize=8)
ax.text(0.81, 0.52, 'R=2.3%', transform=ax.transAxes, ha='center', va='center', fontsize=8)
ax.annotate('', xy=(651, 45.7), xytext=(625, 45.7), arrowprops=dict(arrowstyle='-|>', color='#222', lw=0.7,
                                                                   mutation_scale=5))
ax.annotate('', xy=(674, 45.7), xytext=(700, 45.7), arrowprops=dict(arrowstyle='-|>', color='#222', lw=0.7,
                                                                   mutation_scale=5))

# ---------------- (f) ----------------
box = (719, 327, 963, 533)
ax = px_axes(*box)
ax.patch.set_alpha(0)
ax.plot(f_ch, f_y, color='black', lw=1.1)
ax.plot(f_red_ch, f_red_y, color=RED, lw=1.0)
ax.plot(f_grn_ch, f_grn_y, color=GRN, lw=1.0)
ax.plot(f_blue_ch, f_blue_y, color=BLU, lw=1.1)
ax.set_xlim(0, 1120)
ax.set_ylim(0, 1.05)
ax.xaxis.set_major_locator(FixedLocator([200, 400, 600, 800, 1000]))
ax.xaxis.set_minor_locator(MultipleLocator(100))
ax.yaxis.set_major_locator(MultipleLocator(0.2))
ax.yaxis.set_minor_locator(MultipleLocator(0.1))
ax.yaxis.set_major_formatter(FormatStrFormatter('%.1f'))
ticks(ax, 9.5, color='#333')
for s in ax.spines.values():
    s.set_color('#444')
labels(ax, box, 'Channel Number', 'Normalized intensity (a.u)', 562, 678, 9.5, color='#333')
ax.text(0.02, 0.43, 'KBa$_{\\mathbf{2}}$I$_{\\mathbf{5}}$: 4%Eu', transform=ax.transAxes, ha='left', va='center',
        fontsize=9.5, family=SERIF, weight='bold')
for i, s in enumerate(['$^{\\mathsf{137}}$Cs', '2.4% at 661.7 keV', '2 x 2 x 1 mm$^{\\mathsf{3}}$']):
    ax.text(0.02, 0.275 - i * 0.08, s, transform=ax.transAxes, ha='left', va='center', fontsize=10, color='#222')
for i, s in enumerate(['Iodine', 'escape', 'peak']):
    ax.text(0.68, 0.5 - i * 0.065, s, transform=ax.transAxes, ha='left', va='center', fontsize=6.5, color='#222')

# ---------------- (g) ----------------
box = (1032, 323, 1276, 530)
ax = px_axes(*box)
ax.plot(g_ch, g_y, color='black', lw=1.1)
ax.plot(g_red_ch, g_red_y, color=RED, lw=1.0)
ax.plot(g_grn_ch, g_grn_y, color=GRN, lw=1.0)
ax.plot(g_blue_ch, g_blue_y, color=BLU, lw=1.1)
ax.set_xlim(0, 760)
ax.set_ylim(0, 1.05)
ax.xaxis.set_major_locator(FixedLocator([150, 300, 450, 600, 750]))
ax.xaxis.set_minor_locator(MultipleLocator(75))
ax.yaxis.set_major_locator(MultipleLocator(0.2))
ax.yaxis.set_minor_locator(MultipleLocator(0.1))
ax.yaxis.set_major_formatter(FormatStrFormatter('%.1f'))
ticks(ax, 9.5, color='#333')
for s in ax.spines.values():
    s.set_color('#444')
labels(ax, box, 'Channel Number', 'Normalized intensity (a.u)', 557, 997, 10, color='#333')
ax.text(0.05, 0.81, 'K$_{\\mathbf{2}}$BaI$_{\\mathbf{4}}$:7%Eu', transform=ax.transAxes, ha='left', va='center',
        fontsize=12, family=SERIF, weight='bold')
for i, s in enumerate(['$^{\\mathsf{137}}$Cs', '2.9% at 661.7 keV', '2 x 2 x 1 mm$^{\\mathsf{3}}$']):
    ax.text(0.027, 0.3 - i * 0.075, s, transform=ax.transAxes, ha='left', va='center', fontsize=9, color='#222')
for i, s in enumerate(['Iodine', 'escape', 'peak']):
    ax.text(0.66, 0.54 - i * 0.07, s, transform=ax.transAxes, ha='left', va='center', fontsize=7, color='#222')

# ---------------- (h) ----------------
box = (70, 620, 325, 825)
ax = px_axes(*box)
ax.plot(h_ch, h_y, color='black', lw=1.1)
ax.plot(h_red_ch, h_red_y, color=RED, lw=1.0)
ax.plot(h_grn_ch, h_grn_y, color=GRN, lw=1.0)
ax.plot(h_blue_ch, h_blue_y, color=BLU, lw=1.2)
ax.set_xlim(180, 623)
ax.set_ylim(0, 1.2)
ax.xaxis.set_major_locator(MultipleLocator(100))
ax.xaxis.set_minor_locator(MultipleLocator(50))
ax.yaxis.set_major_locator(MultipleLocator(0.4))
ax.yaxis.set_minor_locator(MultipleLocator(0.2))
ax.yaxis.set_major_formatter(FormatStrFormatter('%.1f'))
ticks(ax, 9, color='#333')
ax.tick_params(axis='y', pad=2)
for s in ax.spines.values():
    s.set_color('#444')
labels(ax, box, 'Channel Number', 'Normalized Intensity (a.u)', 857, 41, 10, color='#333')
ax.text(0.75, 0.925, '$^{\\mathsf{137}}$Cs - 62,300 ph/MeV', transform=ax.transAxes, ha='center', va='center',
        fontsize=8.5, color='#222')
ax.text(0.75, 0.845, '3.3% (662 keV)', transform=ax.transAxes, ha='center', va='center', fontsize=8.5, color='#222')
ax.text(0.078, 0.205, 'Cs$_{\\mathsf{4}}$SrI$_{\\mathsf{6}}$:Eu 4%', transform=ax.transAxes, ha='left', va='center',
        fontsize=9.5, color='#222')
ax.text(0.078, 0.105, '2x2x2 mm$^{\\mathsf{3}}$', transform=ax.transAxes, ha='left', va='center', fontsize=9.5,
        color='#222')


# ---------------- (i) and (j) stacked ----------------
def stacked(l, r, rows, xlim, curves, tags, notes, tagcolor, p1c, p2c, fitc):
    axes = []
    for k, (t, b) in enumerate(rows):
        ax = px_axes(l, t, r, b)
        ch, y, fch, fy, c1, y1, c2, y2 = curves[k]
        ax.plot(ch, y, color='black', lw=1.2)
        if c1:
            ax.plot(c1, y1, color=p1c, lw=0.8)
            ax.plot(c2, y2, color=p2c, lw=0.8)
        ax.plot(fch, fy, color=fitc, lw=1.1)
        ax.set_xlim(*xlim)
        ax.set_ylim(0, 1)
        ax.xaxis.set_major_locator(MultipleLocator(250))
        ax.xaxis.set_minor_locator(MultipleLocator(125))
        ax.yaxis.set_major_locator(MultipleLocator(0.25))
        ax.yaxis.set_minor_locator(MultipleLocator(0.125))
        ax.set_yticklabels([])
        ticks(ax, 8.5, major=3, minor=1.5, color='#333')
        if k < 2:
            ax.set_xticklabels([])
        for s in ax.spines.values():
            s.set_color('#555')
        ax.text(0.995, 0.94, tags[k], transform=ax.transAxes, ha='right', va='top', fontsize=8.5, color=tagcolor,
                bbox=dict(boxstyle='square,pad=0.15', fc='white', ec='#555', lw=0.8))
        for txt, x, yy in notes[k]:
            ax.text(x, yy, txt, transform=ax.transAxes, ha='center', va='center', fontsize=8.5, color='#222')
        axes.append(ax)
    return axes


ai = stacked(375, 639, [(623, 690), (690, 757), (757, 823)], (236, 1847),
             [(i1_ch, i1_y, i1_fit_ch, i1_fit_y, None, None, None, None),
              (i2_ch, i2_y, i2_fit_ch, i2_fit_y, i2_p1_ch, i2_p1_y, i2_p2_ch, i2_p2_y),
              (i3_ch, i3_y, i3_fit_ch, i3_fit_y, i3_p1_ch, i3_p1_y, i3_p2_ch, i3_p2_y)],
             ['Cs$_{\\mathsf{4}}$SrI$_{\\mathsf{6}}$:Eu 0.5%', '3% Eu', '7% Eu'],
             [[('6.6% ER', 0.41, 0.6), ('@ 662 keV', 0.41, 0.4)], [('3.9% ER', 0.7, 0.45)], [('3.2% ER', 0.55, 0.7)]],
             '#a02020', BLU, GRN, '#a02020')
ai[2].set_xlabel('Channel Number', fontsize=7.5, color='#333', va='center')
ai[2].xaxis.set_label_coords(0.5, -(853 - 823) / 66)
ftext(358, 722, 'Counts (normalized)', rotation=90, fontsize=7.5, color='#333', ha='center', va='center')

aj = stacked(693, 940, [(623, 687), (687, 757), (757, 825)], (236, 1760),
             [(j1_ch, j1_y, j1_fit_ch, j1_fit_y, j1_p1_ch, j1_p1_y, j1_p2_ch, j1_p2_y),
              (j2_ch, j2_y, j2_fit_ch, j2_fit_y, j2_p1_ch, j2_p1_y, j2_p2_ch, j2_p2_y),
              (j3_ch, j3_y, j3_fit_ch, j3_fit_y, j3_p1_ch, j3_p1_y, j3_p2_ch, j3_p2_y)],
             ['Cs$_{\\mathsf{4}}$CaI$_{\\mathsf{6}}$:Eu 0.5%', '3% Eu', '7% Eu'],
             [[('4.8% ER', 0.40, 0.6), ('@ 662 keV', 0.40, 0.38)], [('4.3% ER', 0.72, 0.45)], [('3.6% ER', 0.53, 0.66)]],
             '#2a2aff', RED, GRN, '#2a2aff')
aj[2].set_xlabel('Channel Number', fontsize=7.5, color='#333', va='center')
aj[2].xaxis.set_label_coords(0.5, -(857 - 825) / 68)
ftext(674, 726, 'Counts (normalized)', rotation=90, fontsize=7.5, color='#333', ha='center', va='center')

# ---------------- (k) ----------------
box = (1010, 620, 1280, 830)
ax = px_axes(*box)
ax.plot(k_ch, k_y, color='black', lw=1.0)
ax.plot(k_p1_ch, k_p1_y, color='#3a6aff', lw=0.9)
ax.plot(k_p2_ch, k_p2_y, color='#2aa82a', lw=0.9)
ax.plot(k_sum_ch, k_sum_y, color='#b01c1c', lw=1.0)
ax.set_xlim(0, 1200)
ax.set_ylim(-320, 13300)
ax.xaxis.set_major_locator(MultipleLocator(200))
ax.xaxis.set_minor_locator(MultipleLocator(100))
ax.yaxis.set_major_locator(FixedLocator(k_yticks))
ax.yaxis.set_minor_locator(MultipleLocator(1000))
ax.set_yticklabels(k_ylabels)
ticks(ax, 7, color='#333')
for s in ax.spines.values():
    s.set_color('#444')
labels(ax, box, 'Channel Number', 'Counts', 857, 962, 8, color='#333')
lh = [Line2D([], [], color='#3a6aff', lw=1), Line2D([], [], color='#2aa82a', lw=1), Line2D([], [], color='#b01c1c', lw=1)]
leg = ax.legend(lh, ['Peak 1 Fit', 'Peak 2 Fit', 'Fit Sum'], loc='upper right', fontsize=7, frameon=True,
                fancybox=False, edgecolor='#333', handlelength=2.5, labelspacing=0.3, borderaxespad=0.4)
leg.get_frame().set_linewidth(0.8)
ax.text(0.49, 0.57, 'Cs$_{\\mathsf{4}}$CaI$_{\\mathsf{6}}$:Yb 1%', transform=ax.transAxes, ha='center', va='center',
        fontsize=9.5, color='#d0202a')
ax.text(0.49, 0.485, 'ER = 3.5%', transform=ax.transAxes, ha='center', va='center', fontsize=9.5, color='#d0202a')
ax.annotate('', xy=(837, 4216), xytext=(778, 4216), arrowprops=dict(arrowstyle='-|>', color='#222', lw=0.7,
                                                                   mutation_scale=5))
ax.annotate('', xy=(896, 4216), xytext=(948, 4216), arrowprops=dict(arrowstyle='-|>', color='#222', lw=0.7,
                                                                   mutation_scale=5))
ax.text(975, 4216, 'FWHM', ha='left', va='center', fontsize=6, color='#222')

fig.savefig('out.png', dpi=100)
